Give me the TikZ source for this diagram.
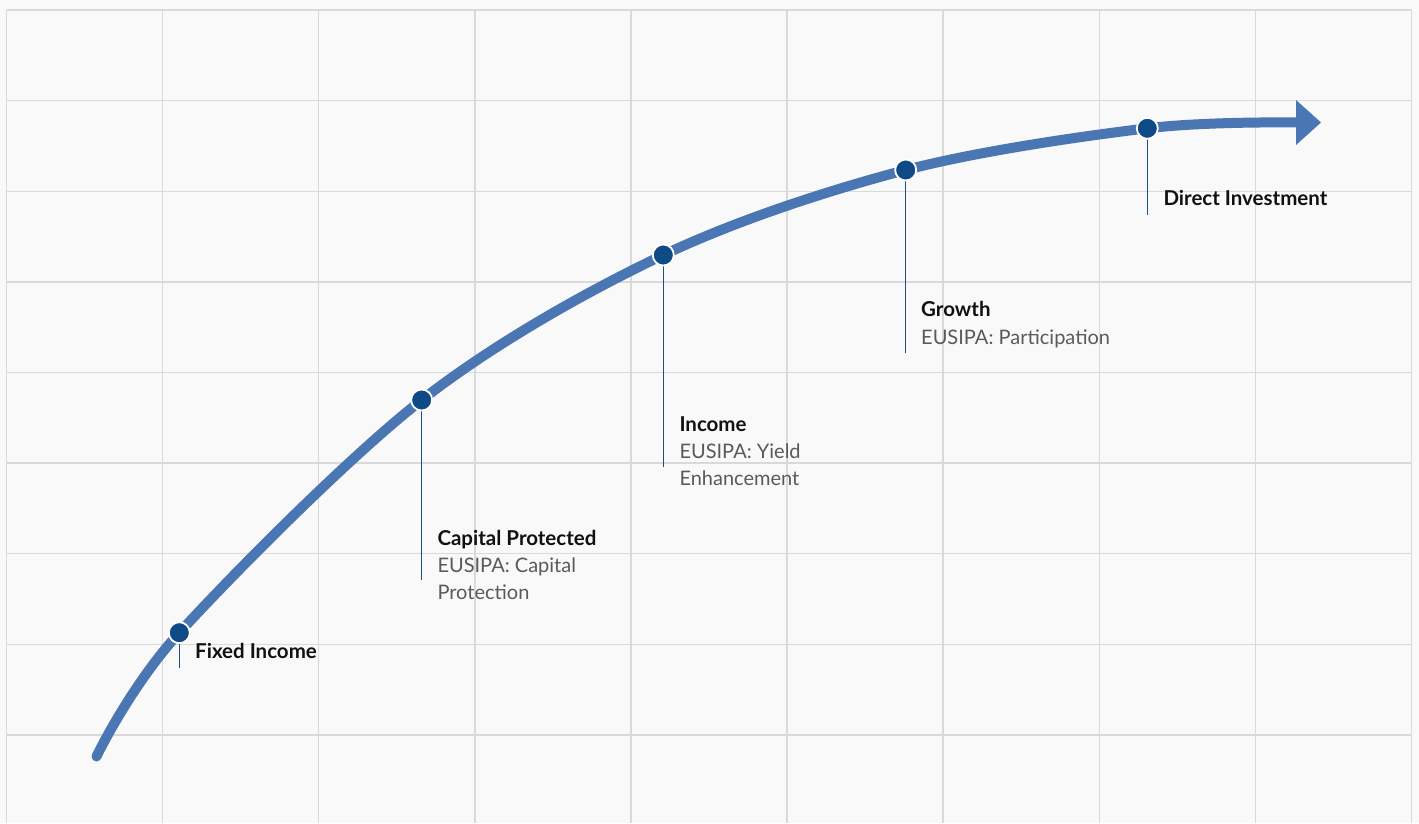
\documentclass[tikz,border=0pt]{standalone}
\usepackage{fontspec}
\setmainfont{Lato}
\definecolor{bgcol}{HTML}{F9F9F9}
\definecolor{gridcol}{HTML}{D9D9D9}
\definecolor{curvecol}{HTML}{4A77B3}
\definecolor{dotcol}{HTML}{0E4A85}
\definecolor{stemcol}{HTML}{1B4F8A}
\definecolor{titlecol}{HTML}{111111}
\definecolor{subcol}{HTML}{5A5A5A}
\begin{document}
\begin{tikzpicture}[x=1pt,y=-1pt,
  gridline/.style={draw=gridcol,line width=1.4pt},
  curve/.style={draw=curvecol,line width=10pt},
  headshape/.style={fill=curvecol},
  milestone/.style={circle,fill=dotcol,draw=white,line width=1.8pt,minimum size=21pt,inner sep=0pt},
  stem/.style={draw=stemcol,line width=1.3pt},
  title/.style={anchor=base west,inner sep=0pt,font=\fontsize{20.5}{27}\selectfont\bfseries,text=titlecol},
  sub/.style={anchor=base west,inner sep=0pt,font=\fontsize{20}{27}\selectfont,text=subcol}]
  % canvas
  \fill[bgcol] (0,0) rectangle (1419,823);
  \useasboundingbox (0,0) rectangle (1419,823);
  % grid
  \foreach \gx in {6.5,162.6,318.7,474.8,630.9,787,943.1,1099.2,1255.3,1411.4}
    \draw[gridline] (\gx,10) -- (\gx,823);
  \foreach \gy in {10,100.6,191.2,281.8,372.4,463,553.6,644.2,734.8}
    \draw[gridline] (6.5,\gy) -- (1411.4,\gy);
  % path points
  \coordinate (start) at (96.5,756.5);
  \coordinate (p1) at (179.3,632.7);
  \coordinate (p2) at (421.7,400);
  \coordinate (p3) at (663.3,255);
  \coordinate (p4) at (905.7,170);
  \coordinate (p5) at (1147.3,128.3);
  \coordinate (neck) at (1300,122.5);
  \coordinate (tip) at (1321,122.5);
  % main curve, rounded at its start
  \draw[curve]
    plot[smooth,tension=0.55] coordinates {(start) (p1) (p2) (p3) (p4) (p5) (neck)};
  \fill[curvecol] (start) circle (5pt);
  % arrow head
  \fill[headshape] (1296,100) -- (tip) -- (1296,145) -- cycle;
  % stems
  \coordinate (e1) at (179.3,668);
  \coordinate (e2) at (421.7,580);
  \coordinate (e3) at (663.3,466.5);
  \coordinate (e4) at (905.7,352.5);
  \coordinate (e5) at (1147.3,215);
  \foreach \i in {1,...,5} \draw[stem] (p\i) -- (e\i);
  % milestones
  \foreach \i in {1,...,5} \node[milestone] (m\i) at (p\i) {};
  % labels
  \node[title] (t1) at (195,658.3) {Fixed Income};
  \node[title] (t2) at (437.3,545.5) {Capital Protected};
  \node[sub] (s2a) at (437.3,572.3) {EUSIPA: Capital};
  \node[sub] (s2b) at (437.3,599) {Protection};
  \node[title] (t3) at (679.3,431.7) {Income};
  \node[sub] (s3a) at (679.3,458.3) {EUSIPA: Yield};
  \node[sub] (s3b) at (679.3,485) {Enhancement};
  \node[title] (t4) at (921,316.7) {Growth};
  \node[sub] (s4a) at (921,344.5) {EUSIPA: Participation};
  \node[title] (t5) at (1163.3,205) {Direct Investment};
\end{tikzpicture}
\end{document}
